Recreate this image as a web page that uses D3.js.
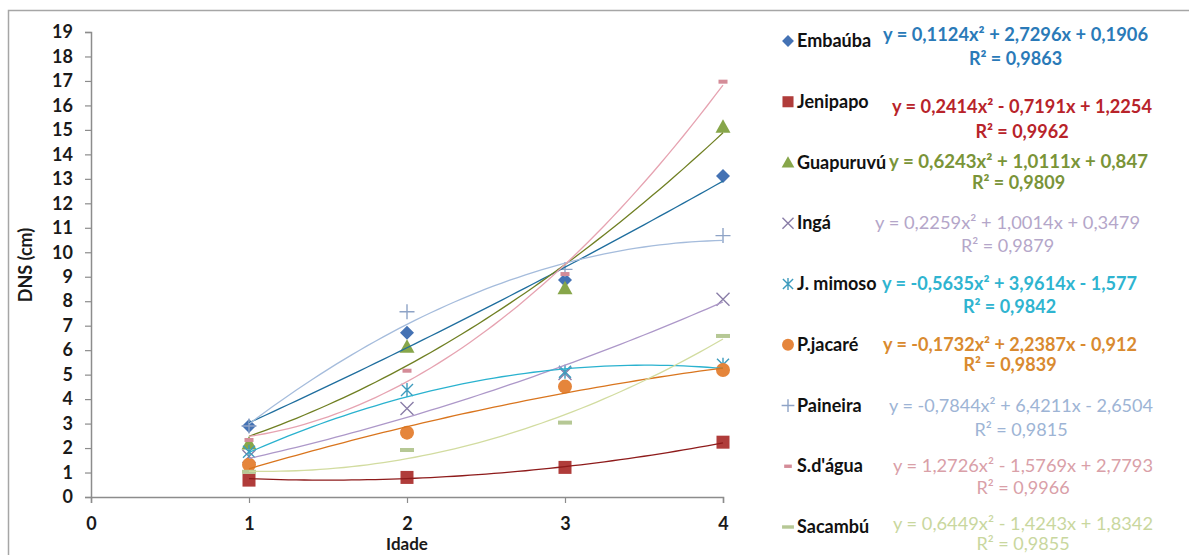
<!DOCTYPE html>
<html>
<head>
<meta charset="utf-8">
<script src="https://cdn.jsdelivr.net/npm/d3@7"></script>
<style>
  html, body { margin: 0; padding: 0; background: #fff; }
  svg { display: block; font-family: Lato, "Open Sans", sans-serif; }
</style>
</head>
<body>
<svg id="chart" width="1189" height="555"></svg>
<script>
// Ages (x) at which diameter was measured
const idade = [1, 2, 3, 4];

// Species names
const especies = ["Embaúba", "Jenipapo", "Guapuruvú", "Ingá", "J. mimoso",
                  "P.jacaré", "Paineira", "S.d'água", "Sacambú"];

// Mean DNS (cm) per species at each age
const embauba   = [2.90, 6.71, 8.87, 13.12];
const jenipapo  = [0.69, 0.80, 1.21, 2.24];
const guapuruvu = [2.19, 6.14, 8.53, 15.13];
const inga      = [1.65, 3.62, 5.05, 8.08];
const jMimoso   = [1.85, 4.37, 5.12, 5.40];
const pJacare   = [1.32, 2.63, 4.51, 5.19];
const paineira  = [2.90, 7.57, 9.30, 10.68];
const sDagua    = [2.33, 5.16, 9.11, 16.97];
const sacambu   = [1.03, 1.92, 3.04, 6.58];

// Polynomial (order 2) trendline coefficients [a, b, c] for y = a x² + b x + c
const coefEmbauba   = [0.1124, 2.7296, 0.1906];
const coefJenipapo  = [0.2414, -0.7191, 1.2254];
const coefGuapuruvu = [0.6243, 1.0111, 0.847];
const coefInga      = [0.2259, 1.0014, 0.3479];
const coefJMimoso   = [-0.5635, 3.9614, -1.577];
const coefPJacare   = [-0.1732, 2.2387, -0.912];
const coefPaineira  = [-0.7844, 6.4211, -2.6504];
const coefSDagua    = [1.2726, -1.5769, 2.7793];
const coefSacambu   = [0.6449, -1.4243, 1.8342];

// Coefficients of determination
const r2 = ["0,9863", "0,9962", "0,9809", "0,9879", "0,9842",
            "0,9839", "0,9815", "0,9966", "0,9855"];

// Axis ticks
const yTicks = d3.range(0, 20);
const xTicks = [0, 1, 2, 3, 4];

const valores = [embauba, jenipapo, guapuruvu, inga, jMimoso, pJacare, paineira, sDagua, sacambu];
const coefs = [coefEmbauba, coefJenipapo, coefGuapuruvu, coefInga, coefJMimoso,
               coefPJacare, coefPaineira, coefSDagua, coefSacambu];

// ---- styles ----
const markerColor = ["#4472b4", "#b03c3a", "#87a64a", "#8a7ea8", "#3d9bbd",
                     "#e5853b", "#8ea3c6", "#d48c98", "#b6c895"];
const lineColor   = ["#1f6e9e", "#8e1b1b", "#6f7f22", "#ad98c9", "#2ab2cf",
                     "#d9751e", "#a5bcdc", "#e6a3b1", "#d2dca0"];
const eqColor     = ["#2a7ab8", "#b8232a", "#7a9438", "#b4a6c9", "#2fb4d0",
                     "#d98a2f", "#9db4d5", "#d9a0a8", "#c9d79e"];
const eqWeight    = ["bold", "bold", "bold", "normal", "bold", "bold", "normal", "normal", "normal"];
const markerType  = ["diamond", "square", "triangle", "x", "star", "circle", "plus", "dash", "longdash"];

const svg = d3.select("#chart");

// outer chart frame (top and left edges visible)
svg.append("path")
  .attr("d", "M8.5,555 L8.5,10.5 L1189,10.5")
  .attr("fill", "none").attr("stroke", "#a6a6a6").attr("stroke-width", 1.5);

const x = d3.scaleLinear().domain([0, 4]).range([91, 723]);
const y = d3.scaleLinear().domain([0, 19]).range([497, 32]);

// y axis
const yAxis = svg.append("g")
  .attr("transform", `translate(${x(0)},0)`)
  .call(d3.axisLeft(y).tickValues(yTicks).tickSize(6).tickPadding(12).tickFormat(d3.format("d")));
// x axis
const xAxis = svg.append("g")
  .attr("transform", `translate(0,${y(0)})`)
  .call(d3.axisBottom(x).tickValues(xTicks).tickSize(6).tickPadding(14).tickFormat(d3.format("d")));

[yAxis, xAxis].forEach(g => {
  g.select(".domain").attr("stroke", "#8c8c8c").attr("stroke-width", 1.5);
  g.selectAll(".tick line").attr("stroke", "#8c8c8c").attr("stroke-width", 1.2);
  g.selectAll(".tick text")
    .attr("fill", "#1a1a1a").attr("font-size", 18).attr("font-weight", "bold")
    .attr("font-family", "Lato, sans-serif");
});

// axis titles
svg.append("text")
  .attr("transform", `translate(32,265) rotate(-90)`)
  .attr("text-anchor", "middle").attr("font-size", 18).attr("font-weight", "bold")
  .attr("fill", "#1a1a1a").text("DNS (cm)");
svg.append("text")
  .attr("x", x(2)).attr("y", 550)
  .attr("text-anchor", "middle").attr("font-size", 17).attr("font-weight", "bold")
  .attr("fill", "#1a1a1a").text("Idade");

// marker drawing
function drawMarker(g, type, color, s) {
  const k = s || 1;
  switch (type) {
    case "diamond":
      g.append("path").attr("d", `M0,${-7*k} L${7*k},0 L0,${7*k} L${-7*k},0Z`).attr("fill", color); break;
    case "square":
      g.append("rect").attr("x", -6.5*k).attr("y", -6.5*k).attr("width", 13*k).attr("height", 13*k).attr("fill", color); break;
    case "triangle":
      g.append("path").attr("d", `M0,${-7.5*k} L${7.5*k},${6*k} L${-7.5*k},${6*k}Z`).attr("fill", color); break;
    case "x":
      g.append("path").attr("d", `M${-6.5*k},${-6.5*k} L${6.5*k},${6.5*k} M${-6.5*k},${6.5*k} L${6.5*k},${-6.5*k}`)
        .attr("stroke", color).attr("stroke-width", 1.4).attr("fill", "none"); break;
    case "star":
      g.append("path").attr("d", `M${-6*k},${-6*k} L${6*k},${6*k} M${-6*k},${6*k} L${6*k},${-6*k} M0,${-7*k} L0,${7*k}`)
        .attr("stroke", color).attr("stroke-width", 1.4).attr("fill", "none"); break;
    case "circle":
      g.append("circle").attr("r", 7*k).attr("fill", color); break;
    case "plus":
      g.append("path").attr("d", `M${-7.5*k},0 L${7.5*k},0 M0,${-7.5*k} L0,${7.5*k}`)
        .attr("stroke", color).attr("stroke-width", 1.4).attr("fill", "none"); break;
    case "dash":
      g.append("rect").attr("x", -4.5*k).attr("y", -2*k).attr("width", 9*k).attr("height", 4*k).attr("fill", color); break;
    case "longdash":
      g.append("rect").attr("x", -7*k).attr("y", -2*k).attr("width", 14*k).attr("height", 4*k).attr("fill", color); break;
  }
}

// data points
valores.forEach((vals, i) => {
  const gs = svg.append("g");
  vals.forEach((v, j) => {
    const g = gs.append("g").attr("transform", `translate(${x(idade[j])},${y(v)})`);
    drawMarker(g, markerType[i], markerColor[i], 1);
  });
});

// trendlines drawn from the fitted equations, over the measured age range
const xs = d3.range(0, 61).map(t => 1 + t * 3 / 60);
const line = d3.line().x(d => x(d[0])).y(d => y(d[1]));
coefs.forEach((c, i) => {
  const pts = xs.map(v => [v, c[0] * v * v + c[1] * v + c[2]]);
  svg.append("path").attr("d", line(pts))
    .attr("fill", "none").attr("stroke", lineColor[i]).attr("stroke-width", 1.3);
});

// legend with equations
const fmt = v => Math.abs(v).toString().replace(".", ",");
function equation(c) {
  let s = "y = " + (c[0] < 0 ? "-" : "") + fmt(c[0]) + "x²";
  s += (c[1] < 0 ? " - " : " + ") + fmt(c[1]) + "x";
  s += (c[2] < 0 ? " - " : " + ") + fmt(c[2]);
  return s;
}

const legBase = 47, legStep = 60.75;
const eqX  = [883, 892, 889, 875, 882, 883, 889, 893, 893];
const eqW  = [265, 260, 259, 265, 255, 254, 264, 260, 260];
const eqDy = [-6, 5, -1, 0, 0, 0, 0, 0, -3];
const r2Dy = [24, 25, 21, 23, 23, 20, 24, 22, 20];

especies.forEach((nome, i) => {
  const yb = legBase + i * legStep;
  const mg = svg.append("g").attr("transform", `translate(788,${yb - 6})`);
  drawMarker(mg, markerType[i], markerColor[i], 0.85);
  svg.append("text").attr("x", 797).attr("y", yb)
    .attr("font-size", 18).attr("font-weight", "bold").attr("fill", "#111").text(nome);
  const ey = yb + eqDy[i];
  svg.append("text").attr("x", eqX[i]).attr("y", ey)
    .attr("font-size", 18).attr("font-weight", eqWeight[i]).attr("fill", eqColor[i])
    .attr("textLength", eqW[i]).attr("lengthAdjust", "spacingAndGlyphs")
    .text(equation(coefs[i]));
  svg.append("text").attr("x", eqX[i] + eqW[i] / 2).attr("y", ey + r2Dy[i])
    .attr("text-anchor", "middle")
    .attr("font-size", 18).attr("font-weight", eqWeight[i]).attr("fill", eqColor[i])
    .text("R² = " + r2[i]);
});
</script>
</body>
</html>
